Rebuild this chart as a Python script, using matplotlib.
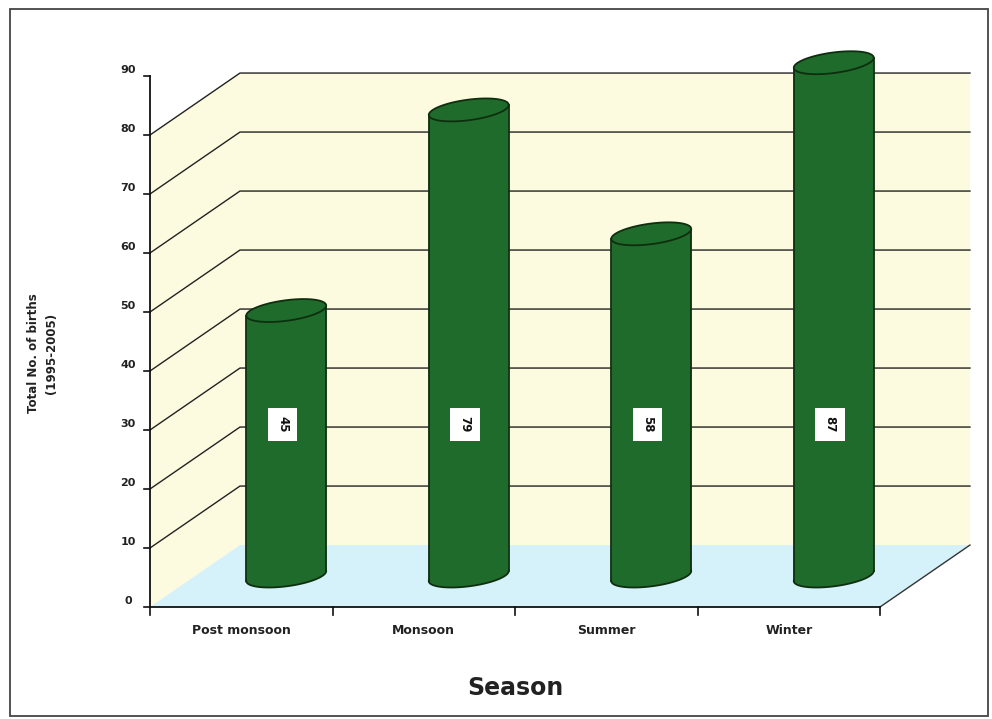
import numpy as np
import matplotlib.pyplot as plt
from matplotlib.patches import Polygon, Rectangle

seasons = ["Post monsoon", "Monsoon", "Summer", "Winter"]
births = [45, 79, 58, 87]
y_ticks = [0, 10, 20, 30, 40, 50, 60, 70, 80, 90]
wall_lines = [10, 20, 30, 40, 50, 60, 70, 80]

BAR = "#1f6b2b"
EDGE = "#0f2e10"
WALL = "#fdfbdf"
FLOOR = "#d5f1fa"
TEXT = "#222222"

# depth offset of the back wall, in data units (categories, births)
DX, DY = 0.493, 10.5
X0, X1 = -0.5, len(seasons) - 0.5
TOP = 80

fig = plt.figure(figsize=(9.92, 7.19), dpi=100)
ax = fig.add_axes([0, 0, 1, 1])
xmin = -0.5 - 150 / 182.5
ax.set_xlim(xmin, xmin + 992 / 182.5)
ymin = -112 / 5.9
ax.set_ylim(ymin, ymin + 719 / 5.9)
ax.axis("off")

# outer frame
fig.patches.append(Rectangle((10 / 992, 3 / 719), 978 / 992, 707 / 719,
                             transform=fig.transFigure, fill=False,
                             edgecolor="#444444", linewidth=1.3))

# back wall, side wall and floor
ax.add_patch(Polygon([(X0 + DX, DY), (X1 + DX, DY), (X1 + DX, TOP + DY), (X0 + DX, TOP + DY)],
                     closed=True, facecolor=WALL, edgecolor="none", zorder=1))
ax.add_patch(Polygon([(X0, 0), (X0 + DX, DY), (X0 + DX, TOP + DY), (X0, TOP)],
                     closed=True, facecolor=WALL, edgecolor="none", zorder=1))
ax.add_patch(Polygon([(X0, 0), (X1, 0), (X1 + DX, DY), (X0 + DX, DY)],
                     closed=True, facecolor=FLOOR, edgecolor="none", zorder=1))

for v in wall_lines:
    ax.plot([X0, X0 + DX, X1 + DX], [v, v + DY, v + DY], color="#222222", lw=1.0, zorder=2)
ax.plot([X1, X1 + DX], [0, DY], color="#333333", lw=1.0, zorder=2)

# front value axis
ax.plot([X0, X0], [0, y_ticks[-1]], color="#111111", lw=1.3, zorder=5)
for v in y_ticks:
    ax.plot([X0 - 0.035, X0], [v, v], color="#111111", lw=1.2, zorder=5)
    ax.text(X0 - 0.12, v + 1.0, str(v), ha="center", va="center",
            fontsize=8, fontweight="bold", family="DejaVu Sans", color=TEXT)

# front category axis
ax.plot([X0, X1], [0, 0], color="#111111", lw=1.3, zorder=5)
for i in range(len(seasons) + 1):
    ax.plot([X0 + i, X0 + i], [0, -1.3], color="#111111", lw=1.2, zorder=5)
for i, name in enumerate(seasons):
    ax.text(i, -3.9, name, ha="center", va="center", fontsize=9, fontweight="bold",
            family="DejaVu Sans", color=TEXT)

# cylinders, set halfway into the depth
a, b, k = 0.219, 1.75, 3.87
t = np.linspace(0, 2 * np.pi, 80)


def ellipse(cx, cy):
    xs = cx + a * np.cos(t)
    ys = cy + b * np.sin(t) + k * (xs - cx)
    return np.column_stack([xs, ys])


for i, v in enumerate(births):
    cx = i + DX / 2
    yb = DY / 2
    yt = v + DY / 2
    s = k * a
    ax.add_patch(Polygon(ellipse(cx, yb), closed=True, facecolor=BAR, edgecolor=EDGE, lw=1.3, zorder=6))
    ax.add_patch(Polygon([(cx - a, yb - s), (cx - a, yt - s), (cx + a, yt + s), (cx + a, yb + s)],
                         closed=True, facecolor=BAR, edgecolor="none", zorder=7))
    ax.plot([cx - a, cx - a], [yb - s, yt - s], color=EDGE, lw=1.3, zorder=8)
    ax.plot([cx + a, cx + a], [yb + s, yt + s], color=EDGE, lw=1.3, zorder=8)
    ax.add_patch(Polygon(ellipse(cx, yt), closed=True, facecolor=BAR, edgecolor=EDGE, lw=1.3, zorder=9))
    ax.text(cx - 0.02, 31, str(v), rotation=-90, ha="center", va="center", fontsize=8.5,
            fontweight="bold", family="DejaVu Sans", color="#111111", zorder=10,
            bbox=dict(boxstyle="square,pad=0.7", facecolor="white", edgecolor="none"))

ax.text(-1.09, 43, "Total No. of births\n(1995-2005)", rotation=90, ha="center", va="center",
        fontsize=8.5, fontweight="bold", family="DejaVu Sans", color=TEXT, linespacing=1.5)
ax.text(1.5, -13.8, "Season", ha="center", va="center", fontsize=17, fontweight="bold",
        family="DejaVu Sans", color=TEXT)

fig.savefig("out.png", dpi=100)
